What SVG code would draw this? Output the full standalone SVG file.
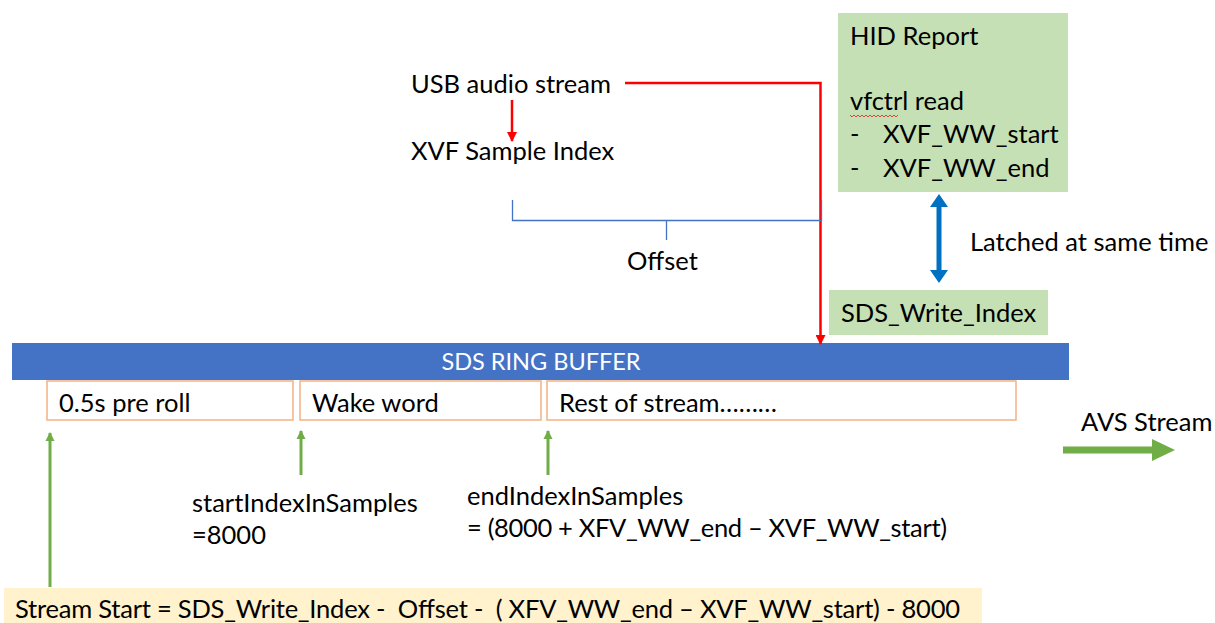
<svg xmlns="http://www.w3.org/2000/svg" width="1215" height="623" viewBox="0 0 1215 623">
<style>
text{font-family:Lato,"Liberation Sans",sans-serif;font-size:25.5px;fill:#000;white-space:pre}
.w{fill:#fff;font-size:23.5px}
.seg{fill:#fff;stroke:#F4B183;stroke-width:1.5}
.green{fill:#C5E0B4}
.ga{stroke:#70AD47;stroke-width:3;fill:none}
</style>
<defs>
<marker id="redHead" markerWidth="10" markerHeight="10" refX="9" refY="5" orient="auto" markerUnits="userSpaceOnUse">
<path d="M0,0 L10,5 L0,10 z" fill="#FF0000"/>
</marker>
<marker id="greenHead" markerWidth="9" markerHeight="10" refX="8" refY="5" orient="auto" markerUnits="userSpaceOnUse">
<path d="M0,0.5 L9,5 L0,9.5 z" fill="#70AD47"/>
</marker>
</defs>
<rect width="1215" height="623" fill="#fff"/>

<g id="usb-audio-stream"><text x="411" y="93">USB audio stream</text></g>
<g id="xvf-sample-index"><text x="411" y="160">XVF Sample Index</text></g>
<g id="offset"><text x="627" y="270">Offset</text></g>

<g id="hid-report">
<rect class="green" x="838" y="13" width="230" height="179"/>
<text x="850" y="45">HID Report</text>
<text x="850" y="110">vfctrl read</text>
<path d="M850,115 l2,2 l2,-2 l2,2 l2,-2 l2,2 l2,-2 l2,2 l2,-2 l2,2 l2,-2 l2,2 l2,-2 l2,2 l2,-2 l2,2 l2,-2 l2,2 l2,-2 l2,2 l2,-2 l2,2 l2,-2 l2,2 l2,-2" fill="none" stroke="#E02020" stroke-width="0.8"/>
<text x="850" y="143">-</text><text x="883" y="143">XVF_WW_start</text>
<text x="850" y="177">-</text><text x="883" y="177">XVF_WW_end</text>
</g>

<g id="latched-label"><text x="970" y="251">Latched at same time</text></g>

<g id="sds-write-index">
<rect class="green" x="829" y="290" width="219" height="45"/>
<text x="841" y="322">SDS_Write_Index</text>
</g>

<g id="sds-ring-buffer">
<rect x="12" y="343" width="1057" height="37" fill="#4472C4"/>
<text class="w" x="541" y="370" text-anchor="middle">SDS RING BUFFER</text>
</g>

<g id="pre-roll"><rect class="seg" x="47" y="381" width="246" height="39"/><text x="59" y="412">0.5s pre roll</text></g>
<g id="wake-word"><rect class="seg" x="300" y="381" width="241" height="39"/><text x="312" y="412">Wake word</text></g>
<g id="rest-of-stream"><rect class="seg" x="547" y="381" width="469" height="39"/><text x="559" y="412">Rest of stream………</text></g>

<g id="start-index"><text x="192" y="512">startIndexInSamples</text><text x="192" y="544">=8000</text></g>
<g id="end-index"><text x="467" y="505">endIndexInSamples</text><text x="467" y="537" textLength="480" lengthAdjust="spacing">= (8000 + XFV_WW_end – XVF_WW_start)</text></g>

<g id="avs-stream"><text x="1081" y="431">AVS Stream</text></g>

<g id="stream-start">
<rect x="4" y="588" width="978" height="40" fill="#FFF2CC"/>
<text x="15" y="618" textLength="945" lengthAdjust="spacing">Stream Start = SDS_Write_Index -  Offset -  ( XFV_WW_end – XVF_WW_start) - 8000</text>
</g>

<g id="connectors">
<line x1="512" y1="100" x2="512" y2="141" stroke="#FF0000" stroke-width="2.5" marker-end="url(#redHead)"/>
<polyline points="625,83 820.5,83 820.5,344" fill="none" stroke="#FF0000" stroke-width="2.5" marker-end="url(#redHead)"/>
<path d="M512.5,200 V220.5 H821.5 V200 M666.5,221 V240" fill="none" stroke="#4472C4" stroke-width="1.3"/>
<path d="M939,194 L948,207 L941.5,207 L941.5,270 L948,270 L939,283 L930,270 L936.5,270 L936.5,207 L930,207 z" fill="#0070C0"/>
<line class="ga" x1="50" y1="587" x2="50" y2="433" marker-end="url(#greenHead)"/>
<line class="ga" x1="301" y1="475" x2="301" y2="431" marker-end="url(#greenHead)"/>
<line class="ga" x1="548" y1="475" x2="548" y2="431" marker-end="url(#greenHead)"/>
<path d="M1063,446.5 H1152 V439 L1175,450 L1152,461 V453.5 H1063 z" fill="#70AD47"/>
</g>
</svg>
